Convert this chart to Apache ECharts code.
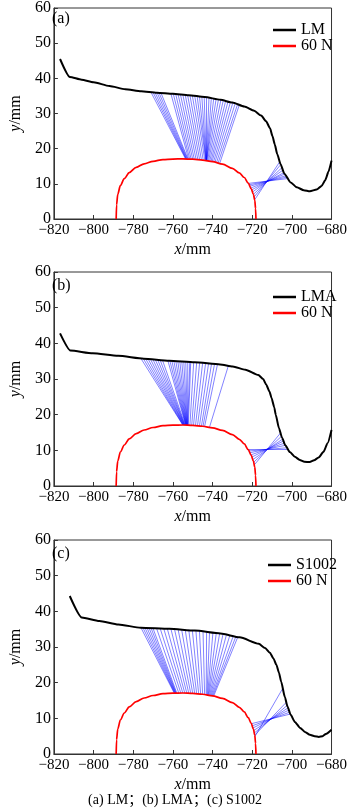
<!DOCTYPE html>
<html>
<head>
<meta charset="utf-8">
<title>wheel rail contact</title>
<script src="https://cdn.jsdelivr.net/npm/echarts@6/dist/echarts.min.js"></script>
<style>
  html, body { margin: 0; padding: 0; background: #fff; }
  #chart { width: 350px; height: 812px; }
</style>
</head>
<body>
<div id="chart"></div>
<script>
// 60 N rail head (same in all three panels)
const railX = [-788.6, -788.4, -787.8, -786.5, -784.5, -782, -778.5, -774.5, -770, -765, -760, -755, -750, -745, -740, -735, -730, -726.5, -724, -722, -720.5, -719.4, -718.7, -718.3, -718.1]
const railY = [0, 4, 7, 9.5, 11.5, 13.2, 14.7, 15.7, 16.4, 16.9, 17.05, 17.1, 17.0, 16.75, 16.3, 15.6, 14.4, 13.1, 11.8, 10.2, 8.6, 7.0, 5.3, 3.0, 0]

// wheel profiles
const lmX = [-816.9, -812, -806, -800, -792, -784, -776, -768, -760, -752, -744, -736, -730, -724, -719, -715.5, -713, -711, -709.8, -708.6, -707.4, -705.7, -703.8, -700.6, -697.5, -694, -690.9, -687.5, -685, -683.2, -681.5, -680]
const lmY = [45.5, 40.4, 39.6, 38.9, 37.8, 36.9, 36.3, 35.9, 35.6, 35.2, 34.7, 33.9, 33.1, 32.0, 30.8, 29.4, 27.8, 25.8, 23.6, 21.2, 18.5, 15.6, 12.9, 10.4, 9.0, 8.2, 7.9, 8.4, 9.4, 11.0, 13.5, 16.6]

const lmaX = [-816.9, -811.7, -800.4, -787.6, -774.7, -761.9, -749, -736.2, -729.8, -723.4, -716.9, -714.5, -712.9, -711.3, -710.2, -708.9, -708.1, -706.5, -705, -703.3, -701, -698.5, -696, -693.7, -691, -688.8, -686.5, -684, -682, -680]
const lmaY = [42.8, 38.0, 37.2, 36.5, 35.7, 35.1, 34.7, 34.1, 33.5, 32.6, 31.1, 30.0, 28.4, 26.5, 24.6, 22.1, 19.9, 16.2, 13.6, 11.4, 9.5, 8.2, 7.3, 6.8, 6.7, 7.2, 8.0, 9.6, 12, 15.7]

const s1002X = [-812, -806, -797.1, -787.5, -776.2, -761.7, -748.9, -736, -726.3, -716.7, -713.5, -711.1, -709.3, -707.8, -706.5, -705.4, -703.5, -702.2, -700.6, -698.5, -695.8, -693.4, -690.9, -688.5, -686.4, -684.5, -682.9, -680]
const s1002Y = [44.3, 38.3, 37.3, 36.3, 35.4, 35.1, 34.6, 33.8, 32.7, 30.9, 29.7, 28.4, 26.8, 25.0, 22.8, 20.3, 15.9, 13.3, 11.0, 9.0, 7.3, 6.2, 5.4, 5.0, 4.8, 5.0, 5.6, 6.8]

// contact point pairs: rail point -> wheel point
const lmRailX = [-753.6, -753.4, -753.2, -753.0, -752.7, -752.4,
  -752.1, -751.5, -750.8, -750, -749.2, -748.3, -747.4, -746.5, -745.6, -744.7, -743.9, -743.4,
  -743.3, -743.25, -743.2, -743.15, -743.1, -743.05, -743, -742.9,
  -742.5, -742, -741.4, -740.8, -740.2, -739.5, -738.8, -738, -737.2, -736.4,
  -722.2, -721.7, -721.2, -720.7, -720.2, -719.8, -719.4, -719.0, -718.6]
const lmRailY = [17.1, 17.1, 17.1, 17.1, 17.1, 17.1,
  17.1, 17.05, 17.05, 17.0, 17.0, 16.95, 16.9, 16.85, 16.8, 16.75, 16.7, 16.65,
  16.6, 16.6, 16.6, 16.6, 16.6, 16.6, 16.6, 16.6,
  16.55, 16.5, 16.45, 16.35, 16.3, 16.2, 16.1, 16.0, 15.9, 15.8,
  10.1, 9.7, 9.3, 8.8, 8.3, 7.7, 7.0, 6.3, 5.6]
const lmWheelX = [-771, -770, -769, -768, -767, -766,
  -761, -759.8, -758.6, -757.4, -756.2, -755, -753.8, -752.6, -751.4, -750.2, -749, -747.8,
  -746.6, -745.4, -744.2, -743, -741.8, -740.6, -739.4, -738.2,
  -737, -735.8, -734.6, -733.4, -732.2, -731, -729.8, -728.6, -727.4, -726.5,
  -702.0, -702.5, -703, -703.5, -704, -704.5, -705, -705.6, -706.2]
const lmWheelY = [36.0, 36.0, 35.95, 35.95, 35.9, 35.85,
  35.65, 35.6, 35.55, 35.5, 35.45, 35.4, 35.35, 35.3, 35.2, 35.15, 35.1, 35.0,
  34.9, 34.8, 34.7, 34.6, 34.5, 34.4, 34.3, 34.15,
  34.05, 33.85, 33.7, 33.55, 33.4, 33.2, 33.0, 32.8, 32.6, 32.45,
  11.5, 11.9, 12.3, 12.8, 13.2, 13.9, 14.6, 15.5, 16.2]

const lmaRailX = [-755, -754.9, -754.8, -754.6, -754.5, -754.4, -754.2, -754.1, -754, -753.8,
  -753.6, -753.5, -753.4, -753.3, -753.2, -753.1, -753, -752.9, -752.8, -752.7, -752.6, -752.5,
  -752.2, -751.4, -750.5, -749.6, -748.6, -747.6, -746.6, -745.6, -744.8, -744,
  -741.6,
  -722.6, -722, -721.4, -720.8, -720.2, -719.7, -719.2, -718.8]
const lmaRailY = [17.1, 17.1, 17.1, 17.1, 17.1, 17.1, 17.1, 17.1, 17.1, 17.1,
  17.1, 17.1, 17.1, 17.1, 17.1, 17.1, 17.1, 17.1, 17.1, 17.1, 17.1, 17.1,
  17.05, 17.05, 17.0, 17.0, 16.95, 16.9, 16.85, 16.8, 16.75, 16.7,
  16.35,
  10.3, 9.8, 9.3, 8.7, 8.1, 7.4, 6.7, 6.0]
const lmaWheelX = [-776, -774.8, -773.6, -772.4, -771.2, -770, -768.8, -767.6, -766.4, -765.2,
  -762.5, -761.5, -760.5, -759.5, -758.5, -757.5, -756.5, -755.5, -754.5, -753.5, -752.5, -751.5,
  -751, -749.5, -748, -746.5, -745, -743.5, -742, -740.5, -739, -737.5,
  -732,
  -702.3, -702.8, -703.3, -703.8, -704.3, -704.8, -705.3, -705.8]
const lmaWheelY = [35.65, 35.6, 35.55, 35.5, 35.45, 35.4, 35.35, 35.3, 35.25, 35.2,
  35.1, 35.08, 35.05, 35.0, 34.98, 34.95, 34.92, 34.9, 34.87, 34.85, 34.82, 34.8,
  34.78, 34.7, 34.65, 34.55, 34.5, 34.42, 34.35, 34.28, 34.2, 34.12,
  33.75,
  10.3, 10.7, 11.4, 12.0, 12.6, 13.1, 13.9, 14.8]

const s1002RailX = [-759.3, -759.1, -758.9, -758.7, -758.5, -758.3,
  -758, -757, -756, -755, -754, -753, -752, -751, -750, -749, -748, -747, -746, -745, -744, -743.2,
  -742.8, -742.5, -742.2, -741.9, -741.5, -741.1, -740.7, -740.3, -739.9, -739.5,
  -720.4, -720, -719.6, -719.2, -718.9, -718.7, -718.6]
const s1002RailY = [17.05, 17.05, 17.05, 17.05, 17.05, 17.05,
  17.05, 17.05, 17.1, 17.1, 17.1, 17.1, 17.05, 17.05, 17.0, 17.0, 16.95, 16.9, 16.85, 16.75, 16.7, 16.6,
  16.55, 16.5, 16.5, 16.45, 16.4, 16.35, 16.3, 16.25, 16.2, 16.15,
  8.5, 7.9, 7.3, 6.6, 5.9, 5.3, 4.9]
const s1002WheelX = [-776, -775, -774, -773, -772, -771,
  -770, -768.2, -766.4, -764.6, -762.8, -761, -759.2, -757.4, -755.6, -753.8, -752, -750.2, -748.4, -746.6, -744.8, -743,
  -741.5, -739.8, -738.1, -736.4, -734.7, -733, -731.3, -729.6, -728.3, -727.3,
  -700.8, -701.2, -701.6, -702, -702.4, -702.8, -704.6]
const s1002WheelY = [35.3, 35.3, 35.3, 35.3, 35.3, 35.3,
  35.2, 35.2, 35.18, 35.15, 35.12, 35.1, 35.05, 35.0, 34.95, 34.9, 34.85, 34.78, 34.7, 34.6, 34.5, 34.4,
  34.2, 34.05, 33.95, 33.8, 33.6, 33.4, 33.2, 33.0, 32.85, 32.75,
  11.2, 11.7, 12.3, 12.9, 13.6, 14.5, 18.4]

const xTicks = { min: -820, max: -680, interval: 20 }
const yTicks = { min: 0, max: 60, interval: 10 }

const panels = [
  { label: '(a)', wheel: 'LM', wx: lmX, wy: lmY, rx: lmRailX, ry: lmRailY, cx: lmWheelX, cy: lmWheelY, top: 5, legendLeft: 268 },
  { label: '(b)', wheel: 'LMA', wx: lmaX, wy: lmaY, rx: lmaRailX, ry: lmaRailY, cx: lmaWheelX, cy: lmaWheelY, top: 272, legendLeft: 268 },
  { label: '(c)', wheel: 'S1002', wx: s1002X, wy: s1002Y, rx: s1002RailX, ry: s1002RailY, cx: s1002WheelX, cy: s1002WheelY, top: 540, legendLeft: 263 },
]

const serif = '"Liberation Serif", "Noto Sans CJK SC", serif'
const zip = (xs, ys) => xs.map((x, i) => [x, ys[i]])
const minus = (v) => String(v).replace('-', '\u2212')

const myChart = echarts.init(document.getElementById('chart'))

const grid = []
const xAxis = []
const yAxis = []
const series = []
const legend = []
const title = []

panels.forEach((p, i) => {
  grid.push({
    left: 46, right: 14, top: p.top, height: 214,
    show: true, borderColor: '#333', borderWidth: 1,
  })
  xAxis.push({
    gridIndex: i, type: 'value', ...xTicks,
    name: '{i|x}/mm', nameLocation: 'middle', nameGap: 23,
    nameTextStyle: {
      fontFamily: serif, fontSize: 16, color: '#000',
      rich: { i: { fontFamily: serif, fontSize: 16, fontStyle: 'italic', color: '#000' } },
    },
    axisLine: { lineStyle: { color: '#333', width: 1 } },
    axisTick: { inside: true, length: 4, lineStyle: { color: '#333' } },
    axisLabel: { fontFamily: serif, fontSize: 15, color: '#000', margin: 4, formatter: minus },
    splitLine: { show: false },
  })
  yAxis.push({
    gridIndex: i, type: 'value', ...yTicks,
    name: '{i|y}/mm', nameLocation: 'middle', nameGap: 27,
    nameTextStyle: {
      fontFamily: serif, fontSize: 16, color: '#000',
      rich: { i: { fontFamily: serif, fontSize: 16, fontStyle: 'italic', color: '#000' } },
    },
    axisLine: { lineStyle: { color: '#333', width: 1 } },
    axisTick: { inside: true, length: 4, lineStyle: { color: '#333' } },
    axisLabel: { fontFamily: serif, fontSize: 16, color: '#000', margin: 3 },
    splitLine: { show: false },
  })

  // contact lines
  series.push({
    type: 'lines',
    coordinateSystem: 'cartesian2d',
    xAxisIndex: i, yAxisIndex: i,
    silent: true,
    lineStyle: { color: '#0000ff', width: 0.7, opacity: 0.7 },
    data: p.rx.map((x, k) => ({ coords: [[x, p.ry[k]], [p.cx[k], p.cy[k]]] })),
    z: 1,
  })
  series.push({
    name: p.wheel, type: 'line', xAxisIndex: i, yAxisIndex: i,
    data: zip(p.wx, p.wy), showSymbol: false, smooth: 0.2, smoothMonotone: 'x',
    color: '#000', lineStyle: { color: '#000', width: 2 }, z: 3,
  })
  series.push({
    name: '60 N', type: 'line', xAxisIndex: i, yAxisIndex: i,
    data: zip(railX, railY), showSymbol: false, smooth: 0.3, smoothMonotone: 'x',
    color: '#ff0000', lineStyle: { color: '#ff0000', width: 1.7 }, z: 2,
  })

  legend.push({
    data: [p.wheel, '60 N'], orient: 'vertical',
    left: p.legendLeft, top: p.top + 12,
    icon: 'rect', itemWidth: 23, itemHeight: 2.5, itemGap: 0,
    selectedMode: false,
    textStyle: { fontFamily: serif, fontSize: 16, color: '#000', lineHeight: 15 },
  })
  title.push({
    text: p.label, left: 52, top: p.top + 6, padding: 0,
    textStyle: { fontFamily: serif, fontSize: 16, fontWeight: 'normal', color: '#000' },
  })
})

title.push({
  text: '(a) LM；(b) LMA；(c) S1002', left: 'center', top: 793, padding: 0,
  textStyle: { fontFamily: serif, fontSize: 14, fontWeight: 'normal', color: '#000' },
})

myChart.setOption({
  animation: false,
  title,
  legend,
  grid,
  xAxis,
  yAxis,
  series,
})
</script>
</body>
</html>
